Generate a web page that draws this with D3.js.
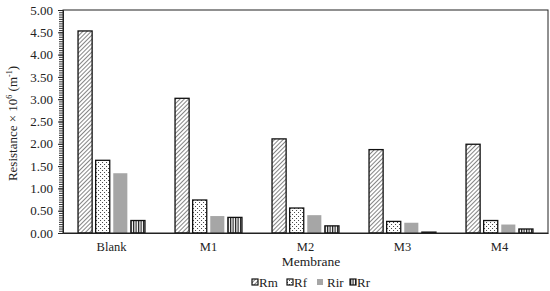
<!DOCTYPE html>
<html>
<head>
<meta charset="utf-8">
<script src="https://cdn.jsdelivr.net/npm/d3@7"></script>
<style>
  body { margin: 0; background: #fff; }
  svg text { font-family: "Times New Roman", "Liberation Serif", Times, serif; fill: #222; }
</style>
</head>
<body>
<div id="chart"></div>
<script>
// DATA
var membranes = ["Blank", "M1", "M2", "M3", "M4"];
var seriesNames = ["Rm", "Rf", "Rir", "Rr"];
var rm = [4.53, 3.02, 2.11, 1.87, 1.99];
var rf = [1.63, 0.74, 0.56, 0.26, 0.28];
var rir = [1.34, 0.38, 0.40, 0.23, 0.19];
var rr = [0.28, 0.35, 0.16, 0.02, 0.09];
var yTicks = [0, 0.5, 1, 1.5, 2, 2.5, 3, 3.5, 4, 4.5, 5];

var W = 550, H = 291;
var margin = {top: 10, right: 2, bottom: 58, left: 63};
var width = W - margin.left - margin.right,
    height = H - margin.top - margin.bottom;
var serif = '"Times New Roman", "Liberation Serif", serif';

var svg = d3.select("#chart").append("svg")
  .attr("width", W).attr("height", H);

//PATTERNS
var defs = svg.append("defs");
var pHatch = defs.append("pattern").attr("id", "p_rm")
  .attr("patternUnits", "userSpaceOnUse").attr("width", 3).attr("height", 3)
  .attr("patternTransform", "rotate(45)");
pHatch.append("rect").attr("width", 3).attr("height", 3).attr("fill", "#fff");
pHatch.append("line").attr("x1", 0).attr("y1", 0).attr("x2", 0).attr("y2", 3)
  .attr("stroke", "#333").attr("stroke-width", 1.2);

var pDot = defs.append("pattern").attr("id", "p_rf")
  .attr("patternUnits", "userSpaceOnUse").attr("width", 4).attr("height", 4);
pDot.append("rect").attr("width", 4).attr("height", 4).attr("fill", "#fff");
pDot.append("rect").attr("x", 0).attr("y", 0).attr("width", 1).attr("height", 1).attr("fill", "#444");
pDot.append("rect").attr("x", 2).attr("y", 2).attr("width", 1).attr("height", 1).attr("fill", "#444");

var pVert = defs.append("pattern").attr("id", "p_rr")
  .attr("patternUnits", "userSpaceOnUse").attr("width", 2.5).attr("height", 3);
pVert.append("rect").attr("width", 2.5).attr("height", 3).attr("fill", "#fff");
pVert.append("rect").attr("x", 0).attr("width", 1.2).attr("height", 3).attr("fill", "#222");

var fills = {Rm: "url(#p_rm)", Rf: "url(#p_rf)", Rir: "#a6a6a6", Rr: "url(#p_rr)"};
var strokes = {Rm: "#111", Rf: "#111", Rir: "none", Rr: "#111"};

var rows = membranes.map(function(m, i) {
  return {m: m, Rm: rm[i], Rf: rf[i], Rir: rir[i], Rr: rr[i]};
});

//SCALES
var x0 = d3.scaleBand().domain(membranes).range([0, width]).paddingInner(0.31).paddingOuter(0.155);
var x1 = d3.scaleBand().domain(seriesNames).range([0, x0.bandwidth()]).paddingInner(0.2);
var y = d3.scaleLinear().domain([0, 5]).range([height, 0]);

var g = svg.append("g").attr("transform", `translate(${margin.left},${margin.top})`);

//BARS
var groups = g.selectAll("g.grp").data(rows).enter().append("g")
  .attr("class", "grp")
  .attr("transform", function(d) { return `translate(${x0(d.m)},0)`; });

groups.selectAll("rect").data(function(d) {
  return seriesNames.map(function(s) { return {s: s, v: d[s]}; });
}).enter().append("rect")
  .attr("x", function(d) { return x1(d.s); })
  .attr("width", x1.bandwidth())
  .attr("y", function(d) { return y(d.v); })
  .attr("height", function(d) { return height - y(d.v); })
  .attr("fill", function(d) { return fills[d.s]; })
  .attr("stroke", function(d) { return strokes[d.s]; })
  .attr("stroke-width", 1.3);

//FRAME
g.append("rect").attr("width", width).attr("height", height)
  .attr("fill", "none").attr("stroke", "#222").attr("stroke-width", 1);

//Y AXIS with minor ticks
var minor = d3.range(0, 5.0001, 0.05);
g.append("g").attr("class", "minor")
  .call(d3.axisLeft(y).tickValues(minor).tickSize(4).tickFormat(""))
  .call(function(a) { a.select(".domain").remove(); a.selectAll("line").attr("stroke", "#333"); });

g.append("g").attr("class", "y_axis")
  .attr("font-family", serif)
  .call(d3.axisLeft(y).tickValues(yTicks).tickSize(5).tickFormat(d3.format(".2f")))
  .call(function(a) {
    a.select(".domain").attr("stroke", "#222");
    a.selectAll("line").attr("stroke", "#222");
    a.selectAll("text").attr("font-size", 13).attr("x", -10);
  });

//X AXIS
g.append("g").attr("transform", `translate(0,${height})`)
  .attr("font-family", serif)
  .call(d3.axisBottom(x0).tickSize(0).tickPadding(9))
  .call(function(a) {
    a.select(".domain").attr("stroke", "#222");
    a.selectAll("text").attr("font-size", 12.5);
  });

//AXIS TITLES
var yt = svg.append("text")
  .attr("transform", `translate(17,${margin.top + height / 2 + 2}) rotate(-90)`)
  .attr("text-anchor", "middle").attr("font-size", 13);
yt.append("tspan").text("Resistance × 10");
yt.append("tspan").attr("dy", -5).attr("font-size", 8).text("6");
yt.append("tspan").attr("dy", 5).text(" (m");
yt.append("tspan").attr("dy", -5).attr("font-size", 8).text("-1");
yt.append("tspan").attr("dy", 5).text(")");

svg.append("text").attr("x", 311).attr("y", 266)
  .attr("text-anchor", "middle").attr("font-size", 13.5).text("Membrane");

//LEGEND
var legX = [252, 287, 317, 350];
var leg = svg.append("g").selectAll("g").data(seriesNames).enter().append("g")
  .attr("transform", function(d, i) { return `translate(${legX[i]},282)`; });
leg.append("rect").attr("y", -3).attr("width", 6).attr("height", 6)
  .attr("fill", function(d) { return fills[d]; })
  .attr("stroke", function(d) { return strokes[d]; }).attr("stroke-width", 1.2);
leg.append("text").attr("x", function(d) { return d === "Rir" ? 10 : 7; }).attr("y", 4.5).attr("font-size", 13)
  .text(function(d) { return d; });
</script>
</body>
</html>
